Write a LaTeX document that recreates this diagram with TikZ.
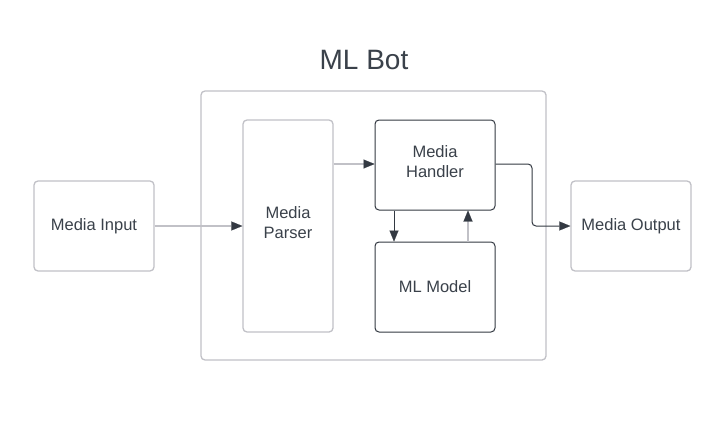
\documentclass[tikz,border=0pt]{standalone}
\usepackage{fontspec}
\setmainfont{Liberation Sans}
\usetikzlibrary{arrows.meta}
\definecolor{lg}{HTML}{C1C1C7}
\definecolor{dk}{HTML}{333942}
\definecolor{tx}{HTML}{3A414A}
\tikzset{
  lbox/.style={draw=lg, line width=1.3pt, rounded corners=4pt, fill=white, inner sep=0pt, text=tx, font=\fontsize{16.5}{20}\selectfont, align=center},
  dbox/.style={lbox, draw=dk, line width=1pt},
  larr/.style={draw=lg, line width=1.3pt, -{Triangle[length=11pt,width=9pt,color=dk,fill=dk,line width=0.1pt]}},
  darr/.style={draw=dk, line width=1pt, -{Triangle[length=11pt,width=9pt,color=dk,fill=dk,line width=0.1pt]}}
}
\begin{document}
\begin{tikzpicture}[x=1pt,y=-1pt]
\useasboundingbox (0,0) rectangle (721,439);
\fill[white] (0,0) rectangle (721,439);
\node[text=tx, font=\fontsize{28}{32}\selectfont] (title) at (364,60) {ML Bot};
\node[lbox, minimum width=345pt, minimum height=269pt] (bot) at (373.5,225.5) {};
\node[lbox, minimum width=120pt, minimum height=90pt] (in) at (94,226) {Media Input};
\node[lbox, minimum width=90pt, minimum height=212pt] (parser) at (288,226) {};
\node[text=tx, font=\fontsize{16.5}{20}\selectfont, align=center] (parsertxt) at (288,222.5) {Media\\Parser};
\node[dbox, minimum width=120pt, minimum height=90pt] (handler) at (435,165) {};
\node[text=tx, font=\fontsize{16.5}{20}\selectfont, align=center] (handlertxt) at (435,161.5) {Media\\Handler};
\node[dbox, minimum width=120pt, minimum height=90pt] (model) at (435,287) {ML Model};
\node[lbox, minimum width=120pt, minimum height=90pt] (out) at (631,226) {Media Output};
\draw[larr] (in.east) -- (parser.west);
\draw[larr] (parser.east |- 0,164) -- (handler.west |- 0,164);
\draw[darr] (handler.south -| 394,0) -- (model.north -| 394,0);
\draw[larr] (model.north -| 468,0) -- (handler.south -| 468,0);
\coordinate (bend) at (532,164);
\draw[darr, rounded corners=4pt] (handler.east |- 0,164) -- (bend) -- (bend |- out.west) -- (out.west);
\end{tikzpicture}
\end{document}
